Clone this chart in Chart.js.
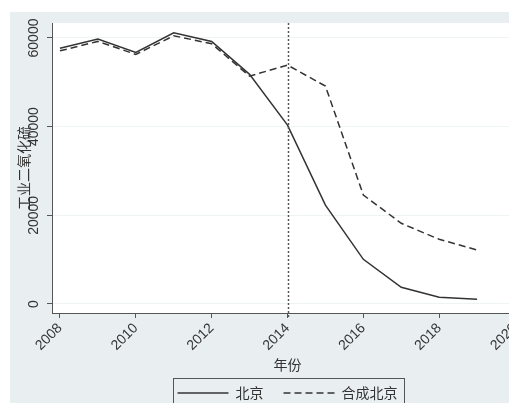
<!DOCTYPE html>
<html>
<head>
<meta charset="utf-8">
<script src="https://cdn.jsdelivr.net/npm/chart.js@4.4.1/dist/chart.umd.min.js"></script>
<style>
  html, body { margin: 0; padding: 0; background: #ffffff; overflow: hidden; width: 509px; height: 403px; }
  #wrap { position: absolute; left: 10px; top: 12px; width: 553px; height: 400px; background: #e9eff1; }
  canvas { display: block; }
</style>
</head>
<body>
<div id="wrap"><canvas id="c" width="553" height="400"></canvas></div>
<script>
// Industrial SO2 emissions, Beijing vs. synthetic Beijing
const years = [2008, 2009, 2010, 2011, 2012, 2013, 2014, 2015, 2016, 2017, 2018, 2019];
const beijing = [57700, 59750, 56750, 61180, 59230, 51800, 40360, 22300, 10080, 3760, 1510, 1060];
const syntheticBeijing = [57100, 59230, 56300, 60500, 58700, 51400, 53890, 49150, 24580, 18200, 14590, 12180];
const xTicks = [2008, 2010, 2012, 2014, 2016, 2018, 2020];
const yTicks = [0, 20000, 40000, 60000];
const treatYear = 2014;

const numFont = { family: '"Liberation Sans", Arial, sans-serif', size: 14 };
const cjkFont = { family: '"Noto Sans CJK SC", "Noto Sans", sans-serif', size: 14 };
const inkColor = '#333333';
const axisColor = '#555555';

const toPoints = (vals) => years.map((x, i) => ({ x: x, y: vals[i] }));

// white plot region behind the lines
const plotBackground = {
  id: 'plotBackground',
  beforeDraw(chart) {
    const { ctx, chartArea: a } = chart;
    ctx.save();
    ctx.fillStyle = '#ffffff';
    ctx.fillRect(a.left, a.top, a.right - a.left, a.bottom - a.top);
    ctx.restore();
  }
};

// dotted marker at the treatment year
const treatLine = {
  id: 'treatLine',
  afterDatasetsDraw(chart) {
    const { ctx, chartArea: a, scales: { x } } = chart;
    const px = Math.round(x.getPixelForValue(treatYear)) + 0.5;
    ctx.save();
    ctx.strokeStyle = axisColor;
    ctx.lineWidth = 1.5;
    ctx.setLineDash([2, 2]);
    ctx.beginPath();
    ctx.moveTo(px, a.top);
    ctx.lineTo(px, a.bottom + 5);
    ctx.stroke();
    ctx.restore();
  }
};

// vertical y tick labels and the legend frame
const extras = {
  id: 'extras',
  afterDraw(chart) {
    const { ctx, scales: { y } } = chart;
    ctx.save();
    ctx.fillStyle = inkColor;
    ctx.font = `${numFont.size}px ${numFont.family}`;
    ctx.textAlign = 'center';
    ctx.textBaseline = 'middle';
    yTicks.forEach(v => {
      const py = y.getPixelForValue(v);
      ctx.save();
      ctx.translate(24, py);
      ctx.rotate(-Math.PI / 2);
      ctx.fillText(String(v), 0, 0);
      ctx.restore();
    });
    ctx.restore();

    const lg = chart.legend;
    const hb = lg.legendHitBoxes;
    if (hb && hb.length) {
      const first = hb[0], last = hb[hb.length - 1];
      const left = Math.round(first.left - 5) + 0.5;
      const right = Math.round(last.left + last.width + 7) + 0.5;
      const top = Math.round(lg.top + 12) + 0.5;
      ctx.save();
      ctx.strokeStyle = axisColor;
      ctx.lineWidth = 1;
      ctx.strokeRect(left, top, right - left, 60);
      ctx.restore();
    }
  }
};

new Chart(document.getElementById('c'), {
  type: 'line',
  data: {
    datasets: [
      {
        label: '北京',
        data: toPoints(beijing),
        borderColor: inkColor,
        borderWidth: 1.5,
        pointRadius: 0,
        tension: 0,
        fill: false
      },
      {
        label: '合成北京',
        data: toPoints(syntheticBeijing),
        borderColor: inkColor,
        borderWidth: 1.5,
        borderDash: [7, 4],
        pointRadius: 0,
        tension: 0,
        fill: false
      }
    ]
  },
  options: {
    responsive: false,
    devicePixelRatio: 1,
    animation: false,
    layout: { padding: { top: 11, left: 0, right: 40, bottom: 2 } },
    scales: {
      x: {
        type: 'linear',
        min: 2007.79,
        max: 2020.21,
        afterBuildTicks: s => { s.ticks = xTicks.map(v => ({ value: v })); },
        afterFit: s => { s.height = 53; },
        ticks: {
          minRotation: 45,
          maxRotation: 45,
          autoSkip: false,
          padding: 2,
          font: numFont,
          color: inkColor,
          callback: v => String(v)
        },
        grid: { drawOnChartArea: false, drawTicks: true, tickLength: 5, tickColor: axisColor, tickWidth: 1 },
        border: { color: axisColor, width: 1 },
        title: { display: true, text: '年份', font: cjkFont, color: inkColor, padding: { top: 0, bottom: -7 } }
      },
      y: {
        min: -2030,
        max: 63380,
        afterBuildTicks: s => { s.ticks = yTicks.map(v => ({ value: v })); },
        afterFit: s => { s.width = 42; },
        ticks: { display: false },
        grid: { color: '#eef3f4', lineWidth: 1, drawTicks: true, tickLength: 5, tickColor: axisColor, tickWidth: 1 },
        border: { color: axisColor, width: 1 },
        title: { display: true, text: '工业二氧化硫', font: cjkFont, color: inkColor, padding: { top: 5, bottom: 0 } }
      }
    },
    plugins: {
      legend: {
        position: 'bottom',
        fullSize: false,
        labels: {
          usePointStyle: true,
          pointStyle: 'line',
          pointStyleWidth: 51,
          padding: 20,
          font: cjkFont,
          color: inkColor,
          generateLabels(chart) {
            const items = Chart.defaults.plugins.legend.labels.generateLabels(chart);
            return items.map(item => {
              const ds = chart.data.datasets[item.datasetIndex];
              item.lineDash = ds.borderDash || [];
              item.lineWidth = ds.borderWidth;
              item.strokeStyle = ds.borderColor;
              return item;
            });
          }
        }
      },
      tooltip: { enabled: false }
    }
  },
  plugins: [plotBackground, treatLine, extras]
});
</script>
</body>
</html>
